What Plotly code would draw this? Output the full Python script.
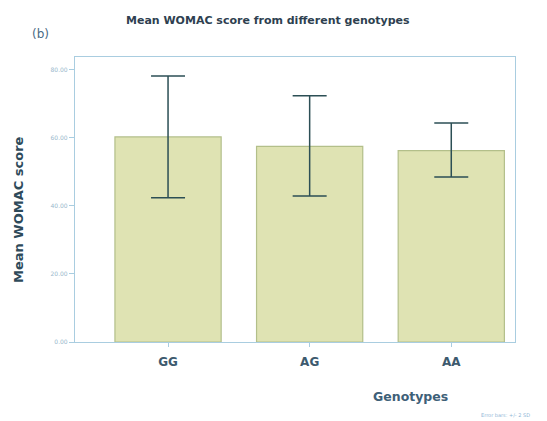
import plotly.graph_objects as go

genotypes = ["GG", "AG", "AA"]
mean_score = [60.3, 57.5, 56.3]
err_plus = [17.9, 14.9, 8.1]
err_minus = [17.9, 14.6, 7.8]
y_ticks = [0, 20, 40, 60, 80]
y_tick_labels = ["0.00", "20.00", "40.00", "60.00", "80.00"]

# page is rendered with an 8px body margin; figure sized to fit the window
W, H = 539, 413
L, R, T, B = 67, 32, 49, 79

fig = go.Figure()
fig.add_trace(go.Bar(
    x=genotypes, y=mean_score, width=0.75,
    marker=dict(color="#dfe3b3", line=dict(color="#b3bf8a", width=1.2)),
    error_y=dict(type="data", symmetric=False, array=err_plus, arrayminus=err_minus,
                 color="#2c4f55", thickness=1.5, width=17),
))

fig.update_layout(
    width=W, height=H,
    margin=dict(l=L, r=R, t=T, b=B, autoexpand=False),
    paper_bgcolor="white", plot_bgcolor="white",
    showlegend=False,
    font=dict(family="DejaVu Sans"),
    xaxis=dict(range=[-0.657, 2.45], showline=True, linecolor="#a9cde0", linewidth=1.2,
               mirror=True, ticks="outside", ticklen=4, tickcolor="#a9cde0",
               tickfont=dict(size=12, color="#3d5a6e", family="DejaVu Sans", weight="bold"),
               ticklabelstandoff=4,
               showgrid=False),
    yaxis=dict(range=[0, 83.8], tickvals=y_ticks, ticktext=y_tick_labels,
               showline=True, linecolor="#a9cde0", linewidth=1.2, mirror=True,
               ticks="outside", ticklen=5, tickcolor="#a9cde0",
               tickfont=dict(size=6, color="#9ab8cc"),
               showgrid=False, zeroline=False),
)

def px(x, y):
    # page pixel coords -> paper coords
    fx, fy = x - 8, y - 8
    pw = W - L - R
    ph = H - T - B
    return (fx - L) / pw, (H - fy - B) / ph

anns = [
    ("<b>Mean WOMAC score from different genotypes</b>", 268, 20, 11, "#2e3f50", 0),
    ("(b)", 40, 34, 12, "#4a6a85", 0),
    ("<b>Genotypes</b>", 410, 396, 12.5, "#3e6078", 0),
    ("<b>Mean WOMAC score</b>", 18, 210, 13, "#2e4a5a", -90),
    ("Error bars: +/- 2 SD", 505, 415, 5, "#8fb6d6", 0),
]
for text, x, y, size, color, angle in anns:
    ax, ay = px(x, y)
    fig.add_annotation(text=text, x=ax, y=ay, xref="paper", yref="paper",
                       xanchor="center", yanchor="middle",
                       showarrow=False, textangle=angle,
                       font=dict(size=size, color=color))

fig.write_html("out.html")
